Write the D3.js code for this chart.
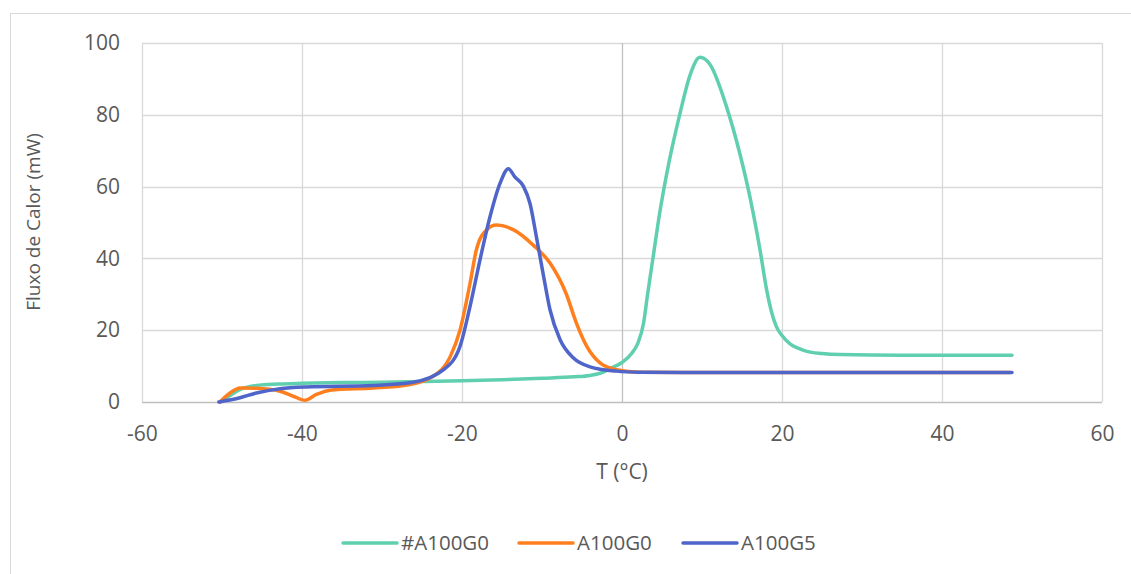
<!DOCTYPE html>
<html>
<head>
<meta charset="utf-8">
<script src="https://cdn.jsdelivr.net/npm/d3@7"></script>
<style>
  body { margin: 0; background: #fff; }
  text { font-family: "Open Sans", sans-serif; fill: #595959; }
</style>
</head>
<body>
<div id="chart"></div>
<script>
// Data
var seriesNames = ["#A100G0", "A100G0", "A100G5"];
var seriesColors = ["#5fcfb0", "#ff7f1f", "#4f65c9"];

var tealT = [-50.2, -49, -47.7, -45.7, -43, -40, -35, -30, -25, -20, -15, -10, -6, -4, -2.5, -1.5, 0, 1.2, 2.0, 2.7, 3.2, 3.9, 4.7, 5.6, 7.25, 8.5, 9.75, 11, 13.1, 14.75, 16, 17.25, 18.1, 18.7, 19.3, 20, 21, 22, 23.1, 25, 27.25, 35, 48.75];
var tealV = [0, 1.8, 3.5, 4.6, 5.0, 5.2, 5.4, 5.5, 5.7, 5.9, 6.2, 6.6, 7.0, 7.4, 8.2, 9.3, 11, 13.5, 16.5, 22, 30, 40.5, 52.5, 63.7, 80.4, 91, 96, 94, 82, 69, 57, 42.4, 31, 25, 21, 18.5, 16.2, 15, 14.1, 13.5, 13.2, 13, 13];

var orangeT = [-50.25, -49, -47.75, -45.7, -42.75, -41.1, -39.6, -38.2, -36.5, -31.1, -27.5, -23.6, -21.5, -20.25, -19, -18.2, -16.9, -15.7, -13.6, -11.1, -9, -7, -5.7, -4.4, -2.75, -0.7, 2.25, 10, 48.5];
var orangeV = [0, 2.5, 3.9, 3.8, 3.0, 1.6, 0.5, 2.1, 3.3, 3.9, 4.5, 7.2, 12.5, 20, 33, 42.4, 48, 49.3, 48, 43.7, 38.7, 30.3, 22, 15.5, 10.9, 9.0, 8.3, 8.2, 8.2];

var blueT = [-50.4, -47.75, -45.7, -42.75, -39.5, -31.1, -26.1, -22.3, -20.25, -19, -17.75, -16.5, -15.25, -14.2, -13.4, -12.3, -11.5, -10.7, -9.8, -9, -7.75, -6.1, -4, -0.7, 2.25, 10, 48.75];
var blueV = [0, 1.2, 2.5, 3.7, 4.2, 4.6, 5.5, 9.0, 15.5, 26.6, 39.6, 51.6, 60.9, 65, 62.7, 60, 55.3, 46, 35, 25.7, 17.4, 12.3, 9.8, 8.6, 8.3, 8.2, 8.2];

var xTicks = [-60, -40, -20, 0, 20, 40, 60];
var yTicks = [0, 20, 40, 60, 80, 100];

var series = [
  tealT.map((t, i) => ({ t: t, v: tealV[i] })),
  orangeT.map((t, i) => ({ t: t, v: orangeV[i] })),
  blueT.map((t, i) => ({ t: t, v: blueV[i] }))
];

// Setup
var width = 1131, height = 574;
var margin = { top: 43, right: 29, bottom: 172, left: 142 };
var plotW = width - margin.left - margin.right,
    plotH = height - margin.top - margin.bottom;

var x = d3.scaleLinear().domain([-60, 60]).range([0, plotW]);
var y = d3.scaleLinear().domain([0, 100]).range([plotH, 0]);

var svg = d3.select("#chart").append("svg")
    .attr("width", width)
    .attr("height", height);

// chart border
svg.append("rect")
    .attr("x", 10.5).attr("y", 13.5)
    .attr("width", 1130).attr("height", 570)
    .attr("fill", "none")
    .attr("stroke", "#d9d9d9");

var g = svg.append("g")
    .attr("transform", "translate(" + margin.left + "," + margin.top + ")");

// grid
g.selectAll(".hgrid").data(yTicks).enter().append("line")
    .attr("x1", 0).attr("x2", plotW)
    .attr("y1", d => Math.round(y(d)) + 0.5).attr("y2", d => Math.round(y(d)) + 0.5)
    .attr("stroke", d => d === 0 ? "#bfbfbf" : "#d9d9d9")
    .attr("stroke-width", 1.3);

g.selectAll(".vgrid").data(xTicks).enter().append("line")
    .attr("y1", 0).attr("y2", plotH)
    .attr("x1", d => Math.round(x(d)) + 0.5).attr("x2", d => Math.round(x(d)) + 0.5)
    .attr("stroke", d => d === 0 ? "#bfbfbf" : "#d9d9d9")
    .attr("stroke-width", 1.3);

// axes (labels only), plain hyphen for negatives
var xAxis = d3.axisBottom(x).tickValues(xTicks).tickSize(0).tickPadding(24)
    .tickFormat(d => String(d));
var yAxis = d3.axisLeft(y).tickValues(yTicks).tickSize(0).tickPadding(22)
    .tickFormat(d => String(d));

g.append("g").attr("transform", "translate(0," + plotH + ")").call(xAxis)
    .call(a => a.select(".domain").remove())
    .selectAll("text").style("font-size", "21px").attr("fill", "#595959")
    .style("font-family", "Open Sans, sans-serif");

g.append("g").call(yAxis)
    .call(a => a.select(".domain").remove())
    .selectAll("text").style("font-size", "21px").attr("fill", "#595959")
    .style("font-family", "Open Sans, sans-serif");

// axis titles
svg.append("text")
    .attr("x", margin.left + x(0)).attr("y", 479)
    .attr("text-anchor", "middle")
    .style("font-size", "21px")
    .text("T (°C)");

svg.append("text")
    .attr("transform", "translate(40,222) rotate(-90)")
    .attr("text-anchor", "middle")
    .style("font-size", "19px")
    .text("Fluxo de Calor (mW)");

// lines
var line = d3.line()
    .x(d => x(d.t))
    .y(d => y(d.v))
    .curve(d3.curveMonotoneX);

g.selectAll(".series").data(series).enter().append("path")
    .attr("fill", "none")
    .attr("stroke", (d, i) => seriesColors[i])
    .attr("stroke-width", 3.5)
    .attr("stroke-linejoin", "round")
    .attr("stroke-linecap", "round")
    .attr("d", d => line(d));

// legend
var legendX = [343, 519, 683];
var legend = svg.selectAll(".legend").data(seriesNames).enter().append("g")
    .attr("transform", (d, i) => "translate(" + legendX[i] + ",543)");

legend.append("line")
    .attr("x1", 0).attr("x2", 54)
    .attr("stroke", (d, i) => seriesColors[i])
    .attr("stroke-width", 3.5)
    .attr("stroke-linecap", "round");

legend.append("text")
    .attr("x", 58).attr("dy", "0.35em")
    .style("font-size", "20.5px")
    .text(d => d);
</script>
</body>
</html>
